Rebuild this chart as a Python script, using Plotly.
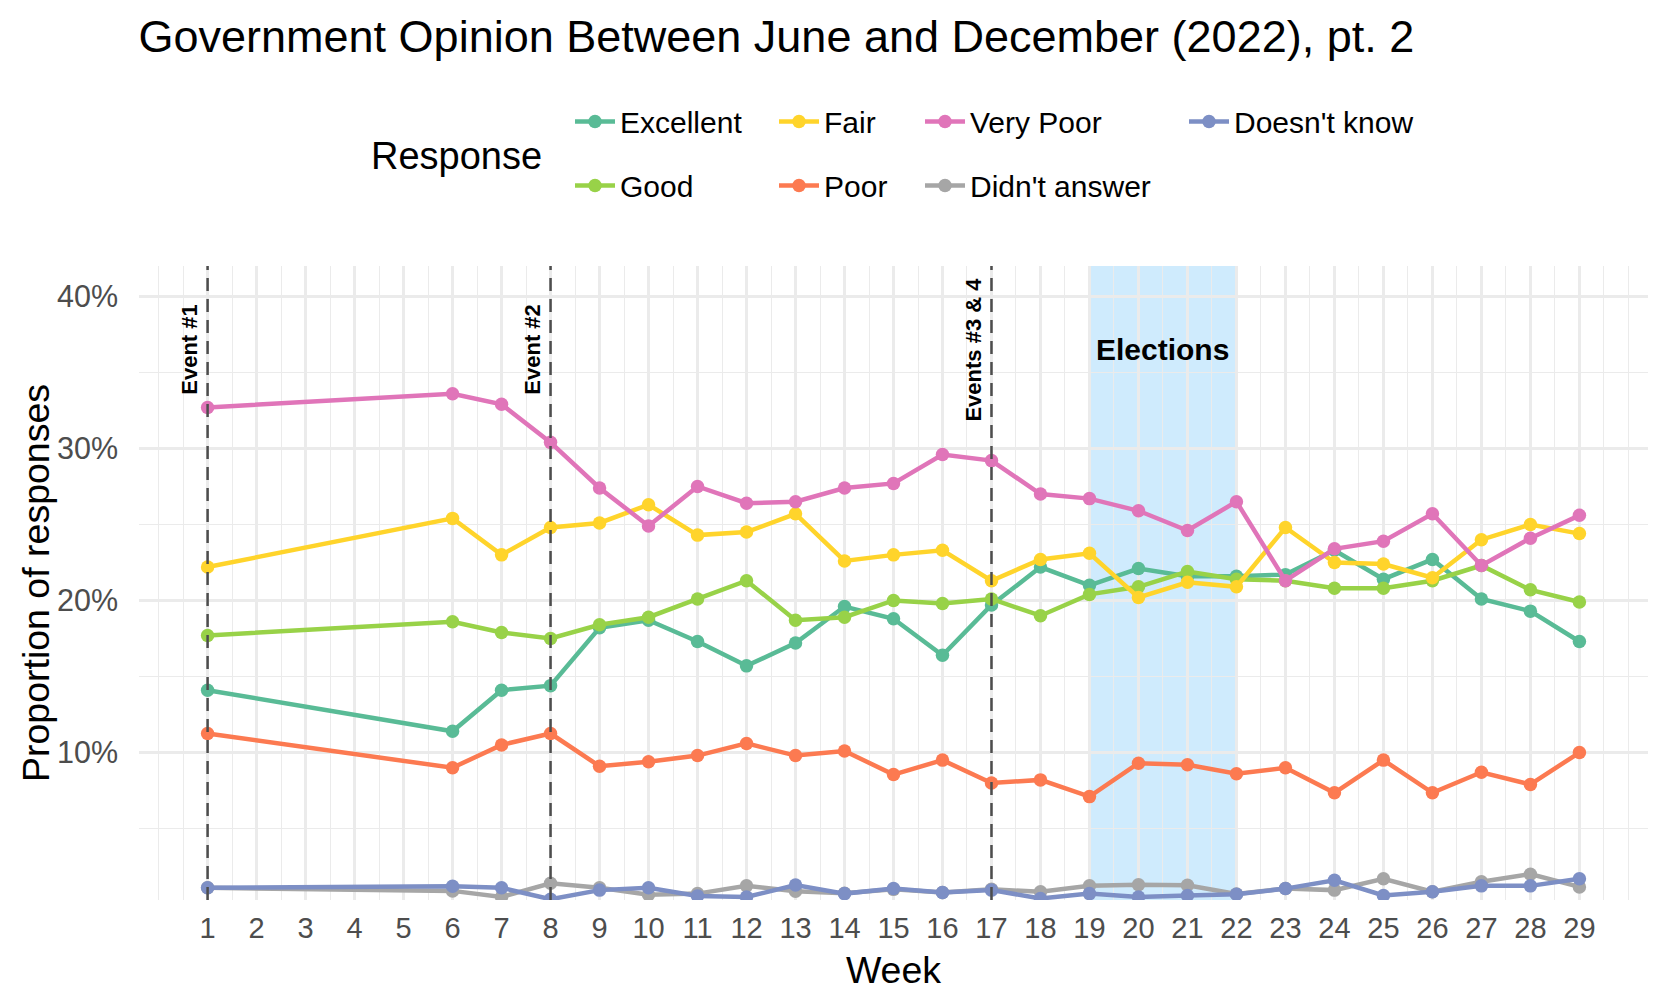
import plotly.graph_objects as go

# ---------------- data ----------------
weeks = [1, 6, 7, 8, 9, 10, 11, 12, 13, 14, 15, 16, 17, 18, 19, 20, 21, 22, 23, 24, 25, 26, 27, 28, 29]

excellent = [14.1, 11.4, 14.1, 14.4, 18.2, 18.7, 17.3, 15.7, 17.2, 19.6, 18.8, 16.4, 19.7,
             22.2, 21.0, 22.1, 21.6, 21.6, 21.7, 23.3, 21.4, 22.7, 20.1, 19.3, 17.3]
good = [17.7, 18.6, 17.9, 17.5, 18.4, 18.9, 20.1, 21.3, 18.7, 18.9, 20.0, 19.8, 20.1,
        19.0, 20.4, 20.9, 21.9, 21.4, 21.3, 20.8, 20.8, 21.3, 22.3, 20.7, 19.9]
fair = [22.2, 25.4, 23.0, 24.8, 25.1, 26.3, 24.3, 24.5, 25.7, 22.6, 23.0, 23.3, 21.3,
        22.7, 23.1, 20.2, 21.2, 20.9, 24.8, 22.5, 22.4, 21.5, 24.0, 25.0, 24.4]
poor = [11.25, 9.0, 10.5, 11.25, 9.1, 9.4, 9.8, 10.6, 9.8, 10.1, 8.55, 9.5, 8.0,
        8.2, 7.1, 9.3, 9.2, 8.6, 9.0, 7.35, 9.5, 7.35, 8.7, 7.9, 10.0]
very_poor = [32.7, 33.6, 32.9, 30.4, 27.4, 24.9, 27.5, 26.4, 26.5, 27.4, 27.7, 29.6, 29.2,
             27.0, 26.7, 25.9, 24.6, 26.5, 21.3, 23.4, 23.9, 25.7, 22.3, 24.1, 25.6]
didnt_answer = [1.1, 0.9, 0.5, 1.4, 1.1, 0.65, 0.72, 1.23, 0.88, 0.75, 1.0, 0.8, 1.0,
                0.84, 1.23, 1.3, 1.27, 0.7, 1.05, 0.95, 1.7, 0.84, 1.5, 2.0, 1.16]
doesnt_know = [1.1, 1.2, 1.1, 0.35, 0.95, 1.1, 0.57, 0.5, 1.28, 0.72, 1.05, 0.79, 0.95,
               0.4, 0.72, 0.5, 0.6, 0.68, 1.05, 1.6, 0.6, 0.84, 1.23, 1.23, 1.7]

series_names = ["Excellent", "Good", "Fair", "Poor", "Very Poor", "Didn't answer", "Doesn't know"]
series_values = [excellent, good, fair, poor, very_poor, didnt_answer, doesnt_know]
series_colors = ["#59BB96", "#98D248", "#FFD42B", "#FC7A51", "#E075B9", "#A6A6A6", "#7D8FC5"]

x_tick_vals = list(range(1, 30))
x_tick_text = [str(v) for v in x_tick_vals]
y_tick_vals = [10, 20, 30, 40]
y_tick_text = ["10%", "20%", "30%", "40%"]

event_weeks = [1, 8, 17]
event_labels = ["Event #1", "Event #2", "Events #3 & 4"]
label_y = 36.5
elections_start, elections_end = 19, 22
elections_label = "Elections"

# ---------------- layout constants ----------------
W, H = 1668, 1006
ML, MR, MT, MB = 130.5, 27.5, 257.6, 114.4
PW, PH = W - ML - MR, H - MT - MB
FONT = "Liberation Sans, Arial, Helvetica, sans-serif"

# legend placement (px in container): box left x, row centre y
legend_px = {
    "Excellent": (562, 113.5), "Good": (562, 177.5),
    "Fair": (766, 113.5), "Poor": (766, 177.5),
    "Very Poor": (912, 113.5), "Didn't answer": (912, 177.5),
    "Doesn't know": (1176, 113.5),
}

fig = go.Figure()
legend_layout = {}
for i, (name, vals, col) in enumerate(zip(series_names, series_values, series_colors)):
    key = "legend" if i == 0 else f"legend{i + 1}"
    fig.add_trace(go.Scatter(
        x=weeks, y=vals, name=name, mode="lines+markers",
        line=dict(color=col, width=4.5),
        marker=dict(color=col, size=13.5),
        legend=key,
    ))
    lx, ly = legend_px[name]
    legend_layout[key] = dict(
        x=lx / W, xref="container", xanchor="left",
        y=1 - ly / H, yref="container", yanchor="middle",
        bgcolor="rgba(0,0,0,0)", itemwidth=40, visible=True,
        font=dict(family=FONT, size=30, color="black"),
    )

shapes = [dict(type="rect", xref="x", yref="y domain", x0=elections_start, x1=elections_end,
               y0=0, y1=1, fillcolor="rgba(135,206,250,0.4)", line=dict(width=0), layer="below")]
for wk in event_weeks:
    shapes.append(dict(type="line", xref="x", yref="y domain", x0=wk, x1=wk, y0=0, y1=1,
                       line=dict(color="#4D4D4D", width=2.5, dash="13px,8px"), layer="above"))

annotations = []
for wk, lab in zip(event_weeks, event_labels):
    annotations.append(dict(x=wk, y=label_y, xref="x", yref="y", text=f"<b>{lab}</b>",
                            textangle=-90, xanchor="right", yanchor="middle", xshift=-3,
                            showarrow=False, font=dict(family=FONT, size=22, color="black")))
annotations.append(dict(x=(elections_start + elections_end) / 2, y=label_y, xref="x", yref="y",
                        text=f"<b>{elections_label}</b>", xanchor="center", yanchor="middle",
                        showarrow=False, font=dict(family=FONT, size=30, color="black")))
annotations.append(dict(x=(361 - ML) / PW, y=(H - MB - 148) / PH,
                        xref="paper", yref="paper", text="Response", xanchor="left",
                        yanchor="middle", showarrow=False,
                        font=dict(family=FONT, size=38, color="black")))
annotations.append(dict(x=(27.5 - ML) / PW, y=0.5, xref="paper", yref="paper",
                        text="Proportion of responses", textangle=-90,
                        xanchor="center", yanchor="middle", showarrow=False,
                        font=dict(family=FONT, size=37.5, color="black")))

fig.update_layout(
    template="none",
    width=W, height=H,
    margin=dict(l=ML, r=MR, t=MT, b=MB, pad=0, autoexpand=False),
    paper_bgcolor="white", plot_bgcolor="white",
    font=dict(family=FONT, color="black"),
    showlegend=True,
    title=dict(text="Government Opinion Between June and December (2022), pt. 2",
               x=ML / W, xref="container", xanchor="left",
               y=1 - 28.5 / H, yref="container", yanchor="middle",
               font=dict(family=FONT, size=45, color="black")),
    shapes=shapes,
    annotations=annotations,
    **legend_layout,
)

fig.update_xaxes(
    range=[-0.4, 30.4], tickmode="array", tickvals=x_tick_vals, ticktext=x_tick_text,
    showgrid=True, gridcolor="#EBEBEB", gridwidth=2.5,
    minor=dict(tickmode="linear", tick0=0, dtick=0.5, showgrid=True, gridcolor="#EBEBEB", gridwidth=1.3),
    zeroline=False, showline=False, ticks="", ticklabelstandoff=8,
    tickfont=dict(family=FONT, size=29, color="#4D4D4D"),
    title=dict(text="Week", font=dict(family=FONT, size=37.5, color="black"), standoff=13),
    automargin=False,
)
fig.update_yaxes(
    range=[0.3, 42.0], tickmode="array", tickvals=y_tick_vals, ticktext=y_tick_text,
    showgrid=True, gridcolor="#EBEBEB", gridwidth=2.5,
    minor=dict(tickmode="linear", tick0=0, dtick=5, showgrid=True, gridcolor="#EBEBEB", gridwidth=1.3),
    zeroline=False, showline=False, ticks="", ticklabelstandoff=20,
    tickfont=dict(family=FONT, size=30.5, color="#4D4D4D"),
    automargin=False,
)

fig.write_html("out.html")
